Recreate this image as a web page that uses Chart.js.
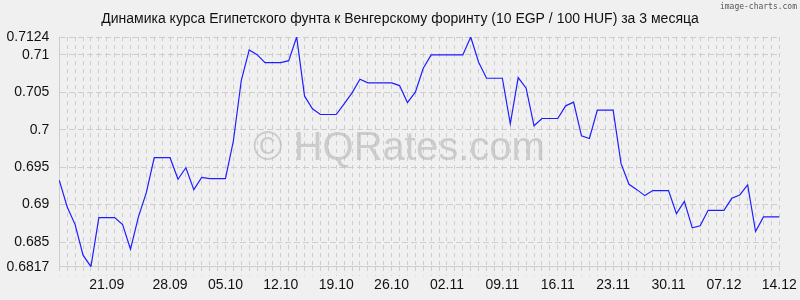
<!DOCTYPE html>
<html>
<head>
<meta charset="utf-8">
<script src="https://cdn.jsdelivr.net/npm/chart.js@4/dist/chart.umd.min.js"></script>
<style>
html,body{margin:0;padding:0;background:#f0f0f0;}
#c{display:block;}
</style>
</head>
<body>
<canvas id="c" width="800" height="300"></canvas>
<script>
// ---- data ----
const titleText = "Динамика курса Египетского фунта к Венгерскому форинту (10 EGP / 100 HUF) за 3 месяца";
const startDate = [2025, 8, 14]; // 14.09.2025
const rates = [
  0.69324, 0.68969, 0.68733, 0.68324, 0.6817, 0.68827, 0.68827, 0.68827, 0.68733, 0.68404,
  0.68836, 0.6916, 0.69627, 0.69627, 0.69627, 0.69338, 0.69493, 0.692, 0.69364, 0.69347,
  0.69347, 0.69347, 0.6985, 0.70658, 0.71067, 0.71004, 0.70898, 0.70898, 0.70898, 0.70924,
  0.7124, 0.70449, 0.7028, 0.70204, 0.70204, 0.70204, 0.70347, 0.70493, 0.70676, 0.70627,
  0.70627, 0.70627, 0.70627, 0.70591, 0.70364, 0.70502, 0.70822, 0.71, 0.71, 0.71,
  0.71, 0.71, 0.7124, 0.70902, 0.70689, 0.70689, 0.70689, 0.7008, 0.70698, 0.70556,
  0.70053, 0.70151, 0.70151, 0.70151, 0.7032, 0.70369, 0.6992, 0.69884, 0.70262, 0.70262,
  0.70262, 0.69547, 0.69271, 0.692, 0.6912, 0.69187, 0.69187, 0.69187, 0.6888, 0.69044,
  0.68689, 0.68716, 0.68924, 0.68924, 0.68924, 0.69084, 0.69129, 0.69262, 0.6864, 0.68836,
  0.68836, 0.68836
];
const xTickLabels = ["21.09","28.09","05.10","12.10","19.10","26.10","02.11","09.11","16.11","23.11","30.11","07.12","14.12"];
const xTickIndex = [6,14,21,28,35,42,49,56,63,70,77,84,91];
const yTicks = [0.6817, 0.685, 0.69, 0.695, 0.7, 0.705, 0.71, 0.7124];
const yMin = 0.6817, yMax = 0.7124;

// build day labels
const dayLabels = rates.map((_, i) => {
  const d = new Date(startDate[0], startDate[1], startDate[2] + i);
  return String(d.getDate()).padStart(2,'0') + '.' + String(d.getMonth()+1).padStart(2,'0');
});

const FONT = '"Liberation Sans", Arial, sans-serif';
const GRID = '#cdcdcd';

const decor = {
  id: 'decor',
  beforeDraw(chart) {
    const ctx = chart.ctx;
    ctx.save();
    ctx.fillStyle = '#f0f0f0';
    ctx.fillRect(0, 0, chart.width, chart.height);
    ctx.fillStyle = '#111';
    ctx.font = '14px ' + FONT;
    ctx.textAlign = 'center';
    ctx.textBaseline = 'alphabetic';
    ctx.fillText(titleText, 400, 23);
    ctx.fillStyle = '#555';
    ctx.font = '8px "DejaVu Sans Mono", monospace';
    ctx.textAlign = 'right';
    ctx.fillText('image-charts.com', 797, 9);
    ctx.restore();
  },
  beforeDatasetsDraw(chart) {
    const ctx = chart.ctx;
    ctx.save();
    ctx.fillStyle = 'rgba(175,175,175,0.55)';
    ctx.font = '40px ' + FONT;
    ctx.textAlign = 'center';
    ctx.textBaseline = 'alphabetic';
    ctx.fillText('\u00A9 HQRates.com', 399, 160);
    ctx.restore();
  }
};

new Chart(document.getElementById('c'), {
  type: 'line',
  data: {
    labels: dayLabels,
    datasets: [{
      data: rates,
      borderColor: '#1e1eff',
      borderWidth: 1.2,
      pointRadius: 0,
      tension: 0,
      fill: false
    }]
  },
  options: {
    responsive: false,
    animation: false,
    devicePixelRatio: 1,
    layout: { padding: { left: 0, right: 20.7, top: 37, bottom: 0 } },
    plugins: { legend: { display: false }, tooltip: { enabled: false }, title: { display: false } },
    scales: {
      x: {
        type: 'category',
        offset: false,
        afterFit(s) { s.height = 33.3; },
        grid: { color: GRID, lineWidth: 1, drawTicks: true, tickLength: 9, tickColor: GRID, tickBorderDash: [4,4] },
        border: { display: true, color: GRID, dash: [4,4] },
        ticks: {
          autoSkip: false, maxRotation: 0, minRotation: 0, padding: 1,
          color: '#111', font: { family: FONT, size: 14 },
          callback(v, i) { const k = xTickIndex.indexOf(i); return k >= 0 ? xTickLabels[k] : ''; }
        }
      },
      y: {
        type: 'linear',
        min: yMin, max: yMax,
        afterFit(s) { s.width = 59.3; },
        afterBuildTicks(s) { s.ticks = yTicks.map(v => ({ value: v })); },
        grid: { color: GRID, lineWidth: 1, drawTicks: false },
        border: { display: true, color: GRID, dash: [6,3] },
        ticks: {
          padding: 10, color: '#111', font: { family: FONT, size: 14 },
          callback(v) { return String(+Number(v).toFixed(4)); }
        }
      }
    }
  },
  plugins: [decor]
});
</script>
</body>
</html>
